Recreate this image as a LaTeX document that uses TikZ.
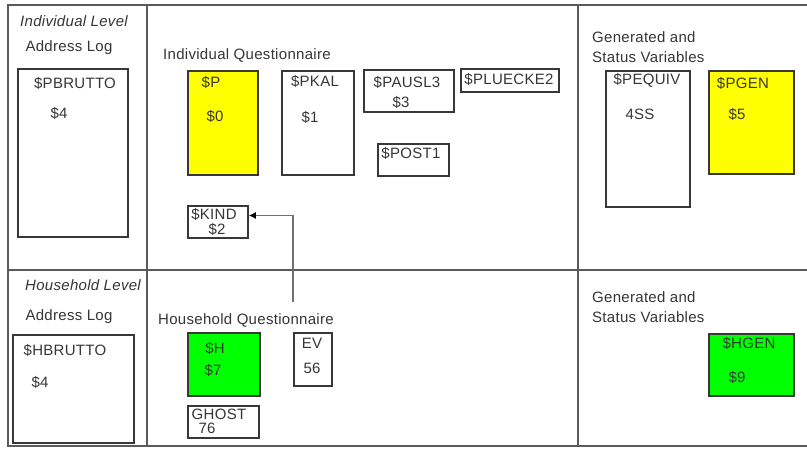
\documentclass[tikz,border=0pt]{standalone}
\usepackage{fontspec}
\setmainfont{Liberation Sans}[LetterSpace=2]
\usetikzlibrary{arrows.meta,calc}
\definecolor{framegray}{HTML}{5A5A5A}
\definecolor{boxgray}{HTML}{383838}
\definecolor{txtgray}{HTML}{363636}
\definecolor{arrowgray}{HTML}{707070}
\definecolor{yel}{HTML}{FFFF00}
\definecolor{grn}{HTML}{00FF00}
\begin{document}
\begin{tikzpicture}[x=1pt,y=-1pt,
  frame/.style={draw=framegray, line width=1.9pt},
  box/.style={draw=boxgray, line width=1.8pt, rectangle, inner sep=0pt, anchor=north west},
  lbl/.style={text=txtgray, inner sep=0pt, font=\fontsize{15}{15}\selectfont},
  hdr/.style={text=txtgray, inner sep=0pt, font=\fontsize{15}{15}\selectfont\itshape},
  conn/.style={draw=arrowgray, line width=1.2pt, -{Latex[length=7pt,width=7pt,color=black]}}]
\useasboundingbox (0,0) rectangle (807,448);
\fill[white] (0,0) rectangle (807,448);
% frame
\draw[frame] (807,5) -- (8,5) -- (8,446) -- (807,446);
\draw[frame] (147,5) -- (147,446);
\draw[frame] (578,5) -- (578,446);
\draw[frame] (8,270) -- (807,270);
% ---------- Individual level ----------
\node[hdr] (indlev) at (74,21) {Individual Level};
\node[lbl] (addr1) at (69,48) {Address Log};
\node[box, minimum width=110, minimum height=168] (pbrutto) at (17,68) {};
\node[lbl] (pbruttoT) at (75,83) {\$PBRUTTO};
\node[lbl] (pbruttoN) at (59,113) {\$4};

\node[lbl, anchor=west] (indq) at (163,55) {Individual Questionnaire};
\node[box, fill=yel, minimum width=70, minimum height=104] (p) at (187,70) {};
\node[lbl] (pT) at (211,82) {\$P};
\node[lbl] (pN) at (215,116) {\$0};
\node[box, minimum width=72, minimum height=104] (pkal) at (281,70) {};
\node[lbl] (pkalT) at (315,81) {\$PKAL};
\node[lbl] (pkalN) at (310,117) {\$1};
\node[box, minimum width=90, minimum height=42] (pausl) at (363,69) {};
\node[lbl] (pauslT) at (407,82) {\$PAUSL3};
\node[lbl] (pauslN) at (401,102) {\$3};
\node[box, minimum width=98, minimum height=23] (pluecke) at (460,68) {};
\node[lbl] (plueckeT) at (509,79) {\$PLUECKE2};
\node[box, minimum width=71, minimum height=32] (post) at (377,143) {};
\node[lbl] (postT) at (411,153) {\$POST1};
\node[box, minimum width=60, minimum height=32] (kind) at (187,205) {};
\node[lbl] (kindT) at (214,214) {\$KIND};
\node[lbl] (kindN) at (217,229) {\$2};

\node[lbl, anchor=west] (gen1a) at (592,37) {Generated and};
\node[lbl, anchor=west] (gen1b) at (592,57) {Status Variables};
\node[box, minimum width=84, minimum height=136] (pequiv) at (605,70) {};
\node[lbl] (pequivT) at (647,80) {\$PEQUIV};
\node[lbl] (pequivN) at (640,114) {4SS};
\node[box, fill=yel, minimum width=85, minimum height=103] (pgen) at (708,70) {};
\node[lbl] (pgenT) at (743,83) {\$PGEN};
\node[lbl] (pgenN) at (737,114) {\$5};

% ---------- Household level ----------
\node[hdr] (hhlev) at (83,285) {Household Level};
\node[lbl] (addr2) at (69,317) {Address Log};
\node[box, minimum width=121, minimum height=108] (hbrutto) at (12,334) {};
\node[lbl] (hbruttoT) at (65,350) {\$HBRUTTO};
\node[lbl] (hbruttoN) at (40,382) {\$4};

\node[lbl, anchor=west] (hhq) at (158,320) {Household Questionnaire};
\node[box, fill=grn, minimum width=72, minimum height=63] (h) at (187,332) {};
\node[lbl] (hT) at (215,348) {\$H};
\node[lbl] (hN) at (213,370) {\$7};
\node[box, minimum width=38, minimum height=53] (ev) at (293,332) {};
\node[lbl] (evT) at (312,343) {EV};
\node[lbl] (evN) at (312,368) {56};
\node[box, minimum width=71, minimum height=32] (ghost) at (187,405) {};
\node[lbl] (ghostT) at (219,414) {GHOST};
\node[lbl] (ghostN) at (207,428) {76};

\node[lbl, anchor=west] (gen2a) at (592,297) {Generated and};
\node[lbl, anchor=west] (gen2b) at (592,317) {Status Variables};
\node[box, fill=grn, minimum width=85, minimum height=62] (hgen) at (708,333) {};
\node[lbl] (hgenT) at (749,343) {\$HGEN};
\node[lbl] (hgenN) at (737,377) {\$9};

% connector
\coordinate (src) at (293,302);
\coordinate (kindin) at ($(kind.north east)!0.31!(kind.south east)$);
\draw[conn] (src) |- (kindin);
\end{tikzpicture}
\end{document}
